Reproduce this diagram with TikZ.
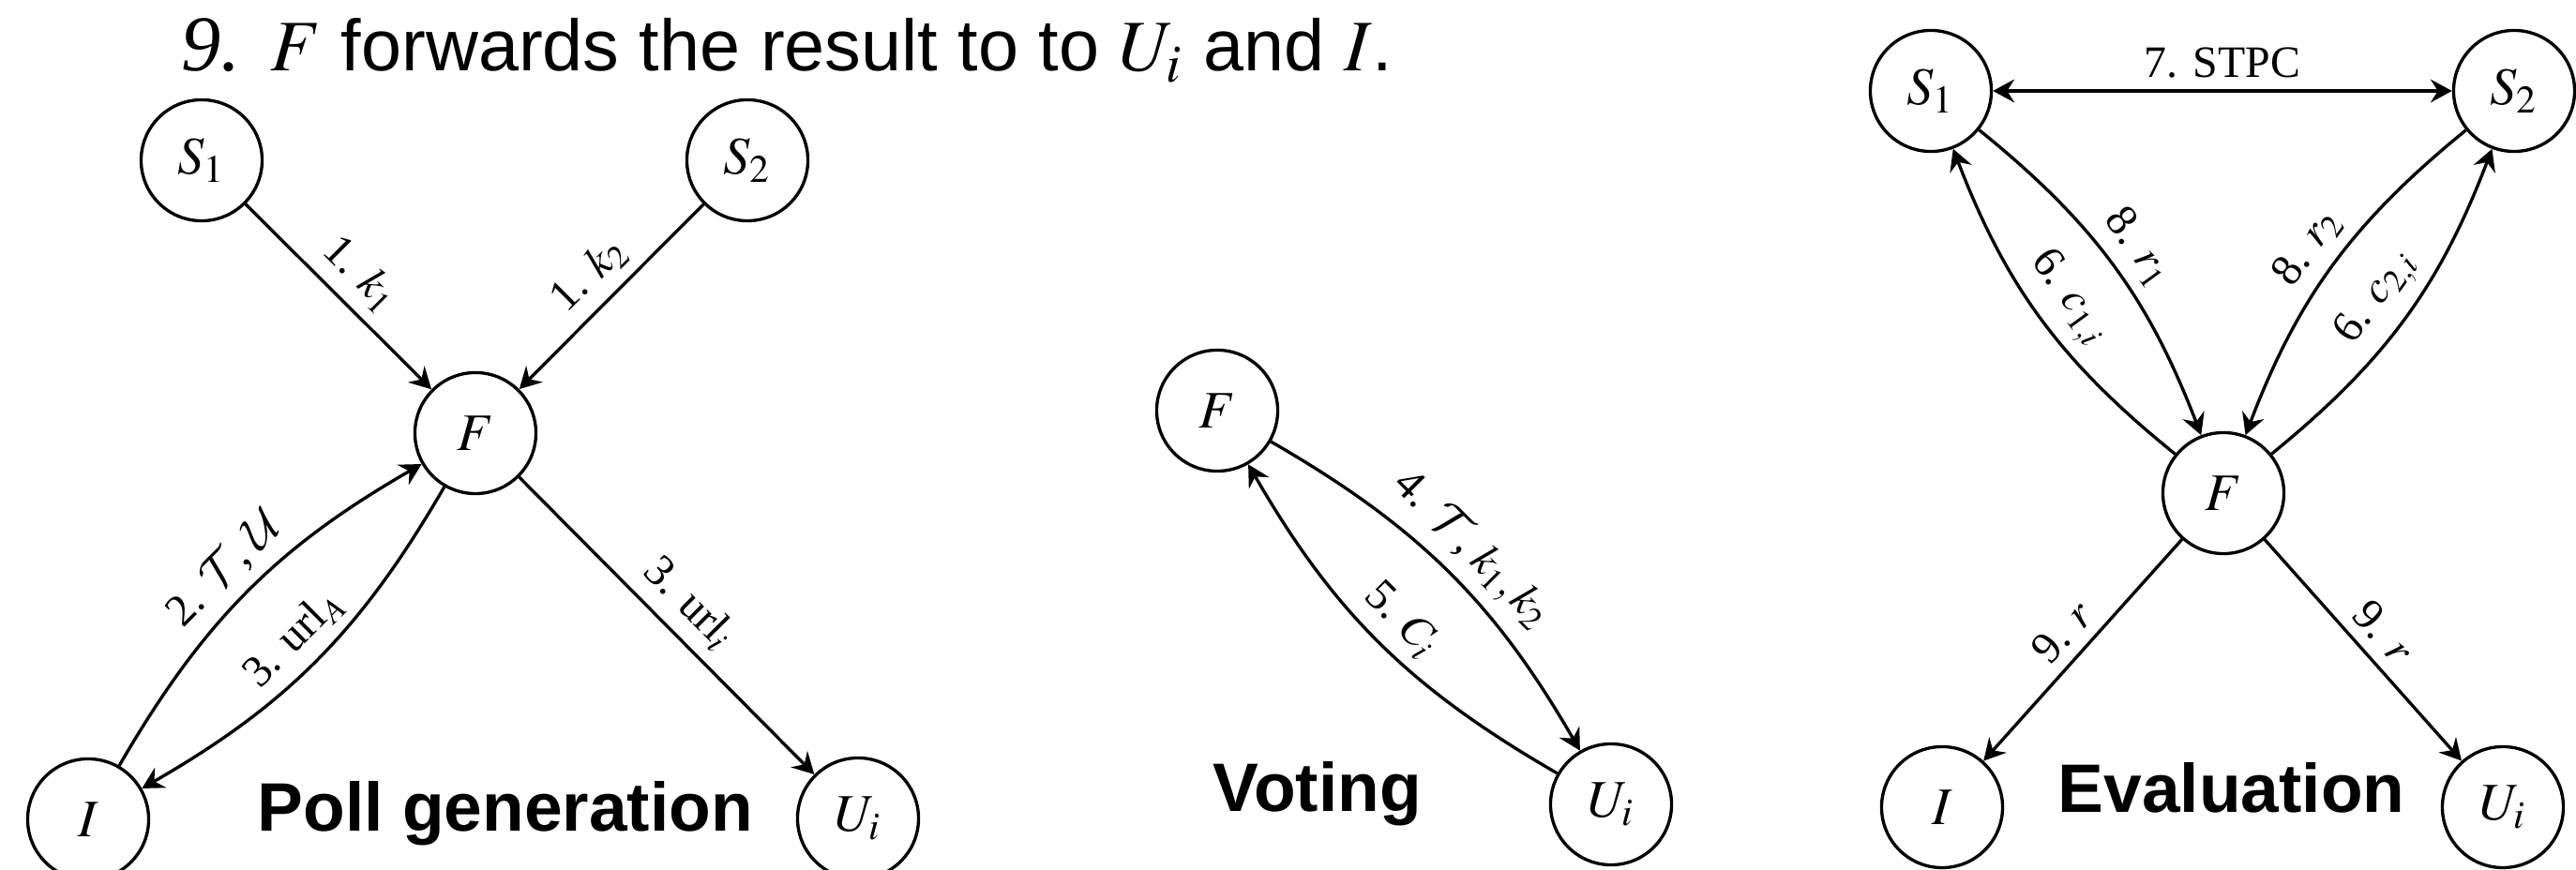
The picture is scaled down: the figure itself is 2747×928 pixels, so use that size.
\documentclass[tikz,border=0pt]{standalone}
\usepackage{mathptmx}
\usepackage{fontspec}
\setmainfont{Liberation Serif}
\newfontfamily\sansfont{Liberation Sans}
\DeclareMathAlphabet{\mathcal}{OMS}{cmsy}{m}{n}
\usetikzlibrary{arrows.meta}

\newcommand{\lblfont}{\fontsize{13.6}{16}\selectfont}
\newcommand{\entfont}{\fontsize{16}{19}\selectfont}
\newcommand{\phasefont}{\sansfont\bfseries\fontsize{20.8}{25}\selectfont}
\newcommand{\headfont}{\sansfont\fontsize{22}{26}\selectfont}

\tikzset{
  ent/.style={circle, draw, line width=0.95pt, minimum size=1.29cm, inner sep=0pt, font=\entfont},
  msg/.style={-{Stealth[length=6.5pt,width=7pt,inset=2.2pt]}, line width=0.95pt},
  both/.style={{Stealth[length=6.5pt,width=7pt,inset=2.2pt]}-{Stealth[length=6.5pt,width=7pt,inset=2.2pt]}, line width=0.95pt},
  lab/.style={sloped, above, font=\lblfont},
  phase/.style={font=\phasefont, anchor=base west, inner sep=0pt},
}

\begin{document}
\begin{tikzpicture}[x=0.01cm, y=-0.01cm]
  \useasboundingbox (0,0) rectangle (2747,928);

  % heading line
  \node[anchor=base west, inner sep=0pt, font=\headfont] (head) at (193,76)
    {{\rmfamily\itshape\fontsize{24}{28}\selectfont 9.}\hspace{9pt}$F$ forwards the result to to $U_i$ and $I$.};

  % ---- poll generation ----
  \node[ent] (s1a) at (215,171) {$S_1$};
  \node[ent] (s2a) at (797,171) {$S_2$};
  \node[ent] (fa)  at (507,462) {$F$};
  \node[ent] (ia)  at (94,874)  {$I$};
  \node[ent] (ua)  at (915,873) {$U_i$};
  \node[phase] (pa) at (274,887) {Poll generation};

  \draw[msg] (s1a) -- node[lab] {1. $k_1$} (fa);
  \draw[msg] (s2a) -- node[lab] {1. $k_2$} (fa);
  \draw[msg] (ia) to[bend left=15] node[lab] {2. $\mathcal{T}$, $\mathcal{U}$} (fa);
  \draw[msg] (fa) to[bend left=15] node[lab] {3. url$_A$} (ia);
  \draw[msg] (fa) -- node[lab] {3. url$_i$} (ua);

  % ---- voting ----
  \node[ent] (fb) at (1298,438) {$F$};
  \node[ent] (ub) at (1718,858) {$U_i$};
  \node[phase] (pb) at (1293,866) {Voting};

  \draw[msg] (fb) to[bend left=15] node[lab] {4. $\mathcal{T}$, $k_1, k_2$} (ub);
  \draw[msg] (ub) to[bend left=15] node[lab] {5. $C_i$} (fb);

  % ---- evaluation ----
  \node[ent] (s1c) at (2059,97)  {$S_1$};
  \node[ent] (s2c) at (2681,97)  {$S_2$};
  \node[ent] (fc)  at (2371,526) {$F$};
  \node[ent] (ic)  at (2071,861) {$I$};
  \node[ent] (uc)  at (2669,861) {$U_i$};
  \node[phase] (pc) at (2194,867) {Evaluation};

  \draw[both] (s1c) -- node[above, font=\lblfont] {7. STPC} (s2c);
  \draw[msg] (s1c) to[bend left=15] node[lab] {8. $r_1$} (fc);
  \draw[msg] (fc) to[bend left=15] node[lab] {6. $c_{1,i}$} (s1c);
  \draw[msg] (s2c) to[bend right=15] node[lab] {8. $r_2$} (fc);
  \draw[msg] (fc) to[bend right=15] node[lab] {6. $c_{2,i}$} (s2c);
  \draw[msg] (fc) -- node[lab] {9. $r$} (ic);
  \draw[msg] (fc) -- node[lab] {9. $r$} (uc);
\end{tikzpicture}
\end{document}
